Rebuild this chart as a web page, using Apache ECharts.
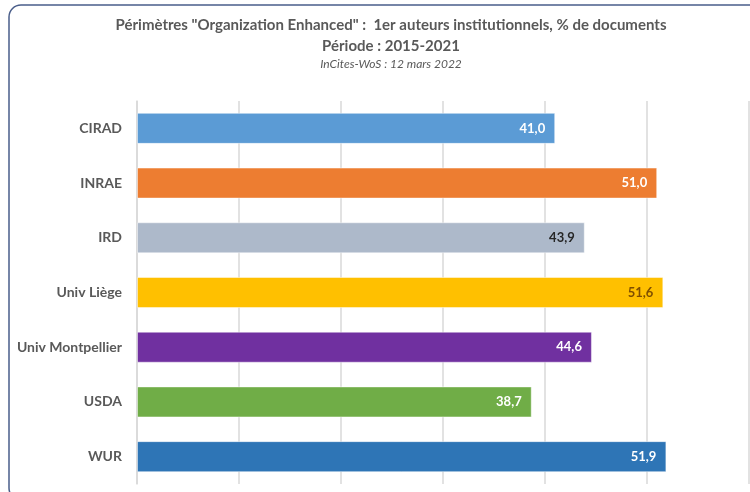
<!DOCTYPE html>
<html>
<head>
<meta charset="utf-8">
<script src="https://cdn.jsdelivr.net/npm/echarts@6/dist/echarts.min.js"></script>
<style>
  html, body { margin: 0; padding: 0; background: #fff; }
  #chart { width: 750px; height: 492px; }
</style>
</head>
<body>
<div id="chart"></div>
<script>
const categories = ['CIRAD', 'INRAE', 'IRD', 'Univ Liège', 'Univ Montpellier', 'USDA', 'WUR'];
const values = [41.0, 51.0, 43.9, 51.6, 44.6, 38.7, 51.9];
const barColors = ['#5B9BD5', '#ED7D31', '#ADB9CA', '#FFC000', '#7030A0', '#70AD47', '#2E75B6'];
const labelColors = ['#fff', '#fff', '#262626', '#7F4F00', '#fff', '#fff', '#fff'];

const font = 'Lato, "Open Sans", sans-serif';
const myChart = echarts.init(document.getElementById('chart'));

myChart.setOption({
    animation: false,
    graphic: [{
        type: 'rect',
        shape: { x: 9, y: 5, width: 800, height: 495, r: 12 },
        style: { fill: 'none', stroke: '#4A5E8A', lineWidth: 1.5 },
        silent: true
    }],
    title: [
        {
            text: 'Périmètres "Organization Enhanced" :  1er auteurs institutionnels, % de documents',
            left: 386, top: 13, textAlign: 'center',
            textStyle: { fontFamily: font, fontSize: 15, fontWeight: 'bold', color: '#595959' }
        },
        {
            text: 'Période : 2015-2021',
            left: 386, top: 34, textAlign: 'center',
            textStyle: { fontFamily: font, fontSize: 15, fontWeight: 'bold', color: '#595959' }
        },
        {
            text: 'InCites-WoS : 12 mars 2022',
            left: 386, top: 53, textAlign: 'center',
            textStyle: { fontFamily: font, fontSize: 12, fontStyle: 'italic', fontWeight: 'normal', color: '#595959' }
        }
    ],
    grid: { left: 137, right: 1, top: 101, bottom: 8, containLabel: false },
    xAxis: {
        type: 'value',
        min: 0, max: 60, interval: 10,
        axisLabel: { show: false },
        axisTick: { show: false },
        axisLine: { show: false },
        splitLine: { lineStyle: { color: '#D9D9D9', width: 1.5 } }
    },
    yAxis: {
        type: 'category',
        inverse: true,
        data: categories,
        axisTick: { show: false },
        axisLine: { lineStyle: { color: '#D9D9D9', width: 1.5 } },
        axisLabel: {
            margin: 15,
            fontFamily: font, fontSize: 14, fontWeight: 'bold', color: '#595959'
        }
    },
    series: [{
        type: 'bar',
        barWidth: 31,
        data: values.map((v, i) => ({
            value: v,
            itemStyle: { color: barColors[i] },
            label: { color: labelColors[i] }
        })),
        itemStyle: { borderColor: 'rgba(255,255,255,0.45)', borderWidth: 1 },
        label: {
            show: true,
            position: 'insideRight',
            distance: 10,
            fontFamily: font, fontSize: 13, fontWeight: 'bold',
            formatter: p => p.value.toFixed(1).replace('.', ',')
        }
    }]
});
</script>
</body>
</html>
